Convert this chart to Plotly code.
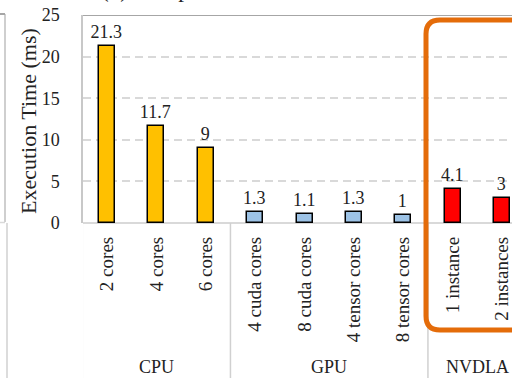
import plotly.graph_objects as go

# ---- data ----
categories = ["2 cores", "4 cores", "6 cores",
              "4 cuda cores", "8 cuda cores", "4 tensor cores", "8 tensor cores",
              "1 instance", "2 instances"]
exec_time = [21.3, 11.7, 9, 1.3, 1.1, 1.3, 1, 4.1, 3]
groups = ["CPU", "GPU", "NVDLA"]
group_members = [[0, 1, 2], [3, 4, 5, 6], [7, 8]]
group_colors = ["#FFC000", "#9DC3E6", "#FF0000"]
y_ticks = [0, 5, 10, 15, 20, 25]

# ---- layout geometry (pixels) ----
L, R, T, B = 83, 512, 15, 223
W, H = R - L, B - T
def px_x(p):
    return (p - L) / W
def px_y(p):
    return (B - p) / H

FONT = "Liberation Serif"
TXT = "#222222"

colors = []
for gi, members in enumerate(group_members):
    for _ in members:
        colors.append(group_colors[gi])

x_idx = list(range(len(categories)))

fig = go.Figure()
fig.add_trace(go.Bar(
    x=x_idx, y=exec_time, width=0.324,
    marker=dict(color=colors, line=dict(color="black", width=1.5)),
    texttemplate="%{y}", textposition="outside", constraintext="none",
    textfont=dict(family=FONT, size=18, color=TXT),
    cliponaxis=False, showlegend=False,
))

shapes = []
# top border
shapes.append(dict(type="line", xref="paper", yref="y", x0=0, x1=1, y0=25, y1=25,
                   line=dict(color="#a6a6a6", width=2), layer="above"))
# group separators in label area
for sep in [-0.5, 2.5, 6.5]:
    shapes.append(dict(type="line", xref="x", yref="paper", x0=sep, x1=sep,
                       y0=0, y1=px_y(380), line=dict(color="#d0d0d0", width=1.5)))
# neighbour chart edges on the left
shapes.append(dict(type="line", xref="paper", yref="paper", x0=px_x(5), x1=px_x(5),
                   y0=px_y(14), y1=px_y(222), line=dict(color="#bfbfbf", width=1.5)))
shapes.append(dict(type="line", xref="paper", yref="paper", x0=px_x(-2), x1=px_x(5),
                   y0=px_y(14), y1=px_y(14), line=dict(color="#a6a6a6", width=2)))
shapes.append(dict(type="line", xref="paper", yref="paper", x0=px_x(-2), x1=px_x(5),
                   y0=px_y(222.5), y1=px_y(222.5), line=dict(color="#d9d9d9", width=1.5)))
shapes.append(dict(type="line", xref="paper", yref="paper", x0=px_x(7), x1=px_x(7),
                   y0=px_y(223), y1=px_y(380), line=dict(color="#d0d0d0", width=1.5)))

# orange rounded highlight around NVDLA
def xd(p):
    return (p - 107) / 49.375
x0, x1 = xd(426), xd(528)
y0, y1 = px_y(330), px_y(20)
rx, ry = 14 / 49.375, 14 / H
path = (f"M {x0+rx},{y1} L {x1-rx},{y1} Q {x1},{y1} {x1},{y1-ry} "
        f"L {x1},{y0+ry} Q {x1},{y0} {x1-rx},{y0} "
        f"L {x0+rx},{y0} Q {x0},{y0} {x0},{y0+ry} "
        f"L {x0},{y1-ry} Q {x0},{y1} {x0+rx},{y1} Z")
shapes.append(dict(type="path", xref="x", yref="paper", path=path,
                   line=dict(color="#E46C0A", width=5), layer="above"))

annotations = []
for g, members in zip(groups, group_members):
    annotations.append(dict(x=sum(members) / len(members), xref="x", y=px_y(367), yref="paper",
                            text=g, showarrow=False, xanchor="center", yanchor="middle",
                            font=dict(family=FONT, size=18, color=TXT)))
annotations.append(dict(x=px_x(28), xref="paper", y=px_y(121), yref="paper",
                        xanchor="center", yanchor="middle",
                        text="Execution Time (ms)", textangle=-90, showarrow=False,
                        font=dict(family=FONT, size=22, color=TXT)))
annotations.append(dict(x=px_x(99), xref="paper", y=px_y(4), yref="paper",
                        xanchor="left", yanchor="bottom", text="(b) Compute Time",
                        showarrow=False, font=dict(family=FONT, size=23, color=TXT)))

fig.update_layout(
    width=512, height=378,
    margin=dict(l=L, r=0, t=T, b=378 - B, pad=0),
    paper_bgcolor="white", plot_bgcolor="white",
    bargap=0,
    shapes=shapes, annotations=annotations,
    xaxis=dict(range=[xd(L), xd(R)], tickvals=x_idx, ticktext=categories,
               tickangle=-90, ticks="", showgrid=False, zeroline=False,
               showline=False, ticklabelstandoff=9, ticklabeloverflow="allow",
               tickfont=dict(family=FONT, size=19, color=TXT)),
    yaxis=dict(range=[0, 25], tickvals=y_ticks, ticks="", showgrid=True,
               gridcolor="#d9d9d9", griddash="8px,5px", gridwidth=1.5,
               zeroline=True, zerolinecolor="#d9d9d9", zerolinewidth=2,
               showline=True, linecolor="#c8c8c8", linewidth=1.5,
               ticklabelstandoff=18,
               tickfont=dict(family=FONT, size=18, color=TXT)),
)

fig.write_html("out.html")
